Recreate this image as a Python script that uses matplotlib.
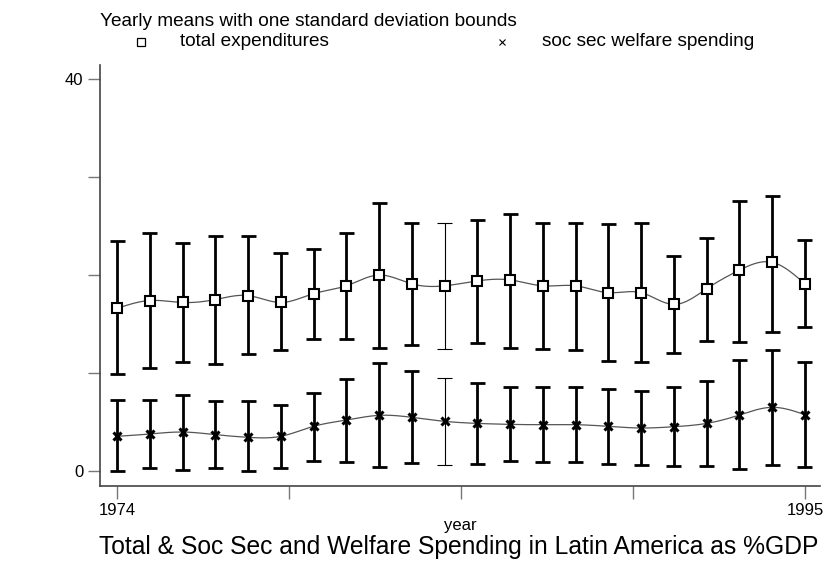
import numpy as np
import matplotlib
matplotlib.use("Agg")
import matplotlib.pyplot as plt
from matplotlib.lines import Line2D

plt.rcParams['font.family'] = ['Liberation Sans', 'DejaVu Sans']

years = np.arange(1974, 1996)

# total expenditures, % of GDP: yearly mean and one-sd bounds
total_mean = [16.6, 17.4, 17.2, 17.5, 17.9, 17.2, 18.1, 18.9, 20.0, 19.1, 18.9,
              19.4, 19.5, 18.9, 18.9, 18.2, 18.2, 17.0, 18.6, 20.5, 21.3, 19.1]
total_lo = [9.9, 10.5, 11.1, 10.9, 11.9, 12.4, 13.5, 13.5, 12.6, 12.9, 12.5,
            13.1, 12.6, 12.5, 12.4, 11.2, 11.1, 12.0, 13.3, 13.2, 14.2, 14.7]
total_hi = [23.5, 24.3, 23.3, 24.0, 24.0, 22.2, 22.7, 24.3, 27.3, 25.3, 25.3,
            25.6, 26.2, 25.3, 25.3, 25.2, 25.3, 21.9, 23.8, 27.6, 28.1, 23.6]

# social security and welfare spending, % of GDP
soc_mean = [3.54, 3.78, 3.98, 3.71, 3.44, 3.54, 4.56, 5.20, 5.68, 5.48, 5.07,
            4.86, 4.76, 4.73, 4.73, 4.56, 4.39, 4.52, 4.86, 5.71, 6.50, 5.75]
soc_lo = [0.03, 0.34, 0.14, 0.34, 0.03, 0.34, 1.05, 0.95, 0.44, 0.85, 0.58,
          0.75, 1.05, 0.95, 0.95, 0.75, 0.65, 0.54, 0.54, 0.17, 0.58, 0.37]
soc_hi = [7.24, 7.24, 7.76, 7.10, 7.14, 6.73, 7.99, 9.39, 11.0, 10.2, 9.49,
          8.98, 8.57, 8.57, 8.57, 8.37, 8.16, 8.57, 9.18, 11.33, 12.35, 11.12]


def spline(x, y, n=20):
    # natural cubic spline through the yearly means
    x = np.asarray(x, float)
    y = np.asarray(y, float)
    h = np.diff(x)
    m = len(x)
    A = np.zeros((m, m))
    d = np.zeros(m)
    A[0, 0] = A[-1, -1] = 1
    for i in range(1, m - 1):
        A[i, i - 1] = h[i - 1]
        A[i, i] = 2 * (h[i - 1] + h[i])
        A[i, i + 1] = h[i]
        d[i] = 6 * ((y[i + 1] - y[i]) / h[i] - (y[i] - y[i - 1]) / h[i - 1])
    M = np.linalg.solve(A, d)
    xs, ys = [], []
    for i in range(m - 1):
        t = np.linspace(x[i], x[i + 1], n, endpoint=False)
        a = x[i + 1] - t
        b = t - x[i]
        s = (M[i] * a ** 3 + M[i + 1] * b ** 3) / (6 * h[i]) \
            + (y[i] / h[i] - M[i] * h[i] / 6) * a \
            + (y[i + 1] / h[i] - M[i + 1] * h[i] / 6) * b
        xs.extend(t)
        ys.extend(s)
    xs.append(x[-1])
    ys.append(y[-1])
    return xs, ys


def bounds(ax, x, lo, hi, lw):
    cap = 0.23
    ax.vlines(x, lo, hi, colors='black', linewidths=lw, zorder=2)
    ax.hlines(lo, x - cap, x + cap, colors='black', linewidths=lw, zorder=2)
    ax.hlines(hi, x - cap, x + cap, colors='black', linewidths=lw, zorder=2)


fig = plt.figure(figsize=(8.24, 5.62), dpi=100)
ax = fig.add_axes([0.1214, 0.1352, 0.8737, 0.7491])

lw = np.full(len(years), 2.0)
lw[years == 1984] = 0.8

for mean, lo, hi, mk in [(total_mean, total_lo, total_hi, 's'),
                         (soc_mean, soc_lo, soc_hi, 'x')]:
    bounds(ax, years, lo, hi, lw)
    sx, sy = spline(years, mean)
    ax.plot(sx, sy, color='#555555', lw=0.9, zorder=3)
    if mk == 's':
        ax.plot(years, mean, ls='none', marker='s', ms=6.8, mfc='white',
                mec='black', mew=1.5, zorder=4)
    else:
        ax.plot(years, mean, ls='none', marker='x', ms=6, mec='black',
                mew=2.2, zorder=4)

ax.set_xlim(1973.48, 1995.46)
ax.set_ylim(-1.53, 41.43)

ax.set_yticks([0, 10, 20, 30, 40])
ax.set_yticklabels(['0', '', '', '', '40'])
ax.set_xticks([1974, 1979.25, 1984.5, 1989.75, 1995])
ax.set_xticklabels(['1974', '', '', '', '1995'])
ax.tick_params(axis='both', direction='out', length=9, width=1,
               color='#777777', labelsize=12, pad=3)

for side in ['top', 'right']:
    ax.spines[side].set_visible(False)
for side in ['left', 'bottom']:
    ax.spines[side].set_color('#444444')
    ax.spines[side].set_linewidth(1.2)

ax.set_xlabel('year', fontsize=12, va='center')
ax.xaxis.set_label_coords(0.5, -0.0926)

fig.text(459 / 824, 1 - 547 / 562,
         'Total & Soc Sec and Welfare Spending in Latin America as %GDP',
         ha='center', va='center', fontsize=17.7)

# legend block above the plot
row = 1 - 42 / 562
fig.text(0.1214, 1 - 22 / 562, 'Yearly means with one standard deviation bounds',
         ha='left', va='center', fontsize=13.7)
fig.add_artist(Line2D([141 / 824], [1 - 41.5 / 562], transform=fig.transFigure,
                      marker='s', ms=5.2, mfc='white', mec='black', mew=0.9, ls='none'))
fig.text(180 / 824, row, 'total expenditures', ha='left', va='center',
         fontsize=13.7)
fig.add_artist(Line2D([502 / 824], [1 - 41.5 / 562], transform=fig.transFigure,
                      marker='x', ms=4.5, mec='black', mew=0.8, ls='none'))
fig.text(542 / 824, row, 'soc sec welfare spending', ha='left', va='center',
         fontsize=13.7)

fig.savefig('out.png', dpi=100)
